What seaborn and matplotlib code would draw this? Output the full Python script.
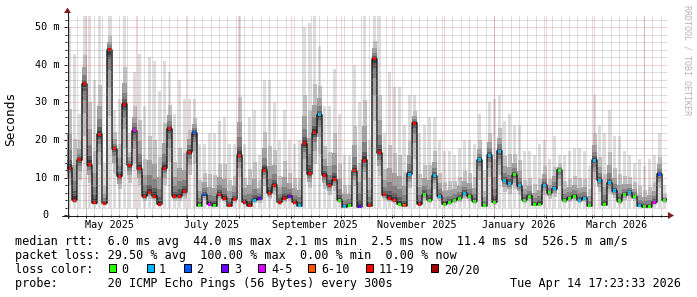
import numpy as np
import pandas as pd
import matplotlib
matplotlib.use("Agg")
import matplotlib.pyplot as plt
import matplotlib.dates as mdates
import matplotlib.transforms as mtransforms
from matplotlib.patches import Polygon, Rectangle
from matplotlib.lines import Line2D
import seaborn as sns

# ---------------- data ----------------
start_time = "2025-04-19 17:23:33"
end_time = "2026-04-14 17:23:33"
bin_days = 3

median_ms = [
    12.5, 4.0, 14.8, 35.0, 13.5, 3.4, 21.5, 3.2, 44.0, 17.7,
    10.4, 29.5, 13.3, 22.5, 12.4, 5.0, 6.0, 5.0, 3.0, 12.5,
    23.0, 5.0, 5.0, 6.2, 16.8, 22.0, 2.5, 5.5, 3.0, 2.6,
    5.5, 4.5, 2.5, 4.2, 16.0, 3.5, 2.5, 4.0, 4.4, 12.0,
    5.8, 8.0, 3.5, 4.5, 5.0, 3.5, 2.5, 19.0, 11.0, 22.0,
    26.7, 10.6, 8.0, 9.5, 4.0, 2.3, 2.5, 11.8, 2.3, 14.6,
    2.5, 41.6, 16.6, 5.5, 4.5, 4.0, 3.0, 2.5, 10.9, 24.5,
    3.0, 5.5, 4.0, 10.5, 5.0, 3.0, 3.5, 4.0, 4.5, 5.8,
    5.0, 3.7, 14.8, 2.5, 16.0, 3.5, 17.0, 9.3, 8.4, 10.8,
    7.8, 4.0, 5.0, 2.8, 3.0, 8.0, 6.0, 7.0, 12.0, 4.0,
    4.5, 5.0, 4.0, 4.5, 2.5, 14.6, 9.3, 2.8, 8.6, 6.5,
    3.8, 5.5, 6.0, 4.9, 2.5, 2.3, 2.3, 3.5, 10.9, 4.0,
]
max_ms = [
    50, 43, 27, 53, 53, 36, 53, 14, 53, 28,
    31, 53, 22, 38, 43, 29, 42, 41, 33, 41,
    38, 27, 36, 31, 31, 31, 19, 19, 22, 22,
    25, 26, 19, 19, 53, 19, 26, 28, 16, 36,
    36, 30, 20, 28, 20, 19, 20, 50, 51, 53,
    45, 29, 29, 39, 27, 16, 16, 40, 30, 53,
    20, 53, 53, 22, 38, 34, 34, 24, 32, 32,
    22, 24, 26, 26, 20, 17, 17, 16, 18, 20,
    20, 19, 27, 12, 30, 31, 32, 25, 27, 24,
    24, 17, 17, 16, 19, 20, 15, 21, 16, 16,
    17, 18, 18, 17, 13, 32, 24, 22, 28, 21,
    21, 17, 16, 14, 15, 13, 15, 16, 22, 8,
]
min_ms = 2.0
# loss class index into loss_labels
loss_class = [
    6, 6, 6, 6, 6, 6, 6, 6, 6, 6,
    6, 6, 6, 4, 6, 6, 6, 6, 6, 6,
    6, 6, 6, 6, 6, 2, 0, 2, 4, 0,
    6, 6, 6, 6, 6, 6, 6, 1, 3, 6,
    6, 6, 6, 6, 3, 6, 1, 6, 6, 6,
    1, 6, 6, 6, 0, 1, 0, 6, 3, 6,
    6, 6, 6, 6, 6, 6, 0, 5, 1, 6,
    6, 0, 0, 1, 1, 0, 0, 0, 0, 1,
    0, 0, 1, 0, 1, 0, 1, 1, 1, 0,
    1, 0, 0, 0, 0, 1, 0, 1, 0, 0,
    0, 0, 1, 1, 0, 1, 1, 0, 1, 1,
    0, 0, 1, 0, 1, 0, 0, 4, 2, 0,
]
loss_labels = ["0", "1", "2", "3", "4-5", "6-10", "11-19", "20/20"]
loss_colors = ["#26ff00", "#00b8ff", "#0059ff", "#6a00ff",
               "#dd00ff", "#ff5500", "#ff0000", "#a00000"]

ytick_values = [10, 20, 30, 40, 50]
ytick_labels = ["10 m", "20 m", "30 m", "40 m", "50 m"]
xlabel_months = ["2025-05-01", "2025-07-01", "2025-09-01",
                 "2025-11-01", "2026-01-01", "2026-03-01"]
xlabel_texts = ["May 2025", "July 2025", "September 2025",
                "November 2025", "January 2026", "March 2026"]

legend_rtt = "median rtt:  6.0 ms avg  44.0 ms max  2.1 ms min  2.5 ms now  11.4 ms sd  526.5 m am/s"
legend_loss = "packet loss: 29.50 % avg  100.00 % max  0.00 % min  0.00 % now"
legend_color = "loss color:"
legend_probe = "probe:       20 ICMP Echo Pings (56 Bytes) every 300s"
timestamp = "Tue Apr 14 17:23:33 2026"
watermark = "RRDTOOL / TOBI OETIKER"

# ---------------- figure ----------------
W, H, DPI = 697, 297, 100
sns.set_theme(style="white")
plt.rcParams["font.family"] = ["DejaVu Sans Mono"]
fig = plt.figure(figsize=(W / DPI, H / DPI), dpi=DPI)
fig.patch.set_facecolor("white")
ID = mtransforms.IdentityTransform()

PL, PT, PW, PH = 67, 15.3, 600, 200
ax = fig.add_axes([PL / W, 1 - (PT + PH) / H, PW / W, PH / H])
ax.set_facecolor("white")
for s in ax.spines.values():
    s.set_visible(False)

t0 = mdates.date2num(pd.Timestamp(start_time))
t1 = mdates.date2num(pd.Timestamp(end_time))
YMAX = 53.16

bin_start = mdates.date2num(pd.date_range(start_time, periods=len(median_ms),
                                          freq=f"{bin_days}D"))
med = np.array(median_ms, dtype=float)
mx = np.array(max_ms, dtype=float)

# smoke bands (outer = light/narrow, inner = dark/full width)
shades = [221, 192, 162, 130, 95, 60]
fracs = [1.0, 0.42, 0.24, 0.13, 0.06, 0.03]
widths = [0.6, 0.8, 1.0, 1.0, 1.0, 1.0]
for g, f, wf in zip(shades, fracs, widths):
    top = med + (mx - med) * f
    bot = med - (med - min_ms) * f
    ax.bar(bin_start + bin_days * (1 - wf) / 2, top - bot, bottom=bot,
           width=bin_days * wf, align="edge",
           color=str(g / 255), linewidth=0, zorder=1)

# median line
line_df = pd.DataFrame({"t": np.append(bin_start, t1),
                        "ms": np.append(med, med[-1])})
sns.lineplot(data=line_df, x="t", y="ms", drawstyle="steps-post",
             color="#202020", lw=1.1, ax=ax, zorder=2, estimator=None)

# loss-coloured median marks
ax.bar(bin_start + bin_days * 0.15, 0.8, bottom=med - 0.4,
       width=bin_days * 0.7, align="edge",
       color=[loss_colors[c] for c in loss_class], linewidth=0, zorder=3)

ax.set_xlim(t0, t1)
ax.set_ylim(0, YMAX)
ax.set_xlabel("")
ax.set_ylabel("")

# grid
grid_c = (0.56, 0.56, 0.56, 0.6)
mgrid_c = (0.87, 0.31, 0.31, 0.5)
dash = (0, (1, 1))
for v in np.arange(2, YMAX, 2):
    if int(v) % 10:
        ax.axhline(v, color=grid_c, lw=0.72, ls=dash, zorder=4)
for v in ytick_values:
    ax.axhline(v, color=mgrid_c, lw=0.72, ls=dash, zorder=4)
anchor = pd.Timestamp("2026-04-01")
minor_days = [anchor + pd.Timedelta(days=5 * k) for k in range(-80, 5)]
minor_x = [mdates.date2num(d) for d in minor_days
           if pd.Timestamp(start_time) < d < pd.Timestamp(end_time)]
for xv in minor_x:
    ax.axvline(xv, color=grid_c, lw=0.72, ls=dash, zorder=4)
month_x = mdates.date2num(pd.date_range("2025-05-01", "2026-04-01", freq="MS"))
for xv in month_x:
    ax.axvline(xv, color=mgrid_c, lw=0.72, ls=dash, zorder=4)

# ticks
axis_c = (0.12, 0.12, 0.12)
ax.set_yticks([0] + ytick_values)
ax.set_yticks(np.arange(0, YMAX, 2), minor=True)
ax.set_xticks(month_x)
ax.set_xticks(minor_x, minor=True)
ax.tick_params(axis="both", which="both", labelleft=False, labelbottom=False,
               left=True, bottom=True, direction="out", color=axis_c, width=0.72)
ax.tick_params(axis="y", which="major", length=2.5)
ax.tick_params(axis="y", which="minor", length=1.6)
ax.tick_params(axis="x", which="major", length=2.2)
ax.tick_params(axis="x", which="minor", length=1.4)

# axis lines and arrows
fig.add_artist(Line2D([62, 668], [H - 215.5, H - 215.5], transform=ID,
                      color=axis_c, lw=0.72))
fig.add_artist(Line2D([67.5, 67.5], [H - 218, H - 12], transform=ID,
                      color=axis_c, lw=0.72))
arrow_c = (0.5, 0.12, 0.12)
fig.add_artist(Polygon([[64, H - 13], [71, H - 13], [67.5, H - 7.5]],
                       closed=True, transform=ID, color=arrow_c, lw=0))
fig.add_artist(Polygon([[668, H - 212], [668, H - 219], [674, H - 215.5]],
                       closed=True, transform=ID, color=arrow_c, lw=0))

# y labels
ylab_tr = mtransforms.blended_transform_factory(ID, ax.transData)
for v, lab in zip(ytick_values, ytick_labels):
    ax.text(35.3, v, lab, transform=ylab_tr, ha="left", va="center",
            fontsize=7.3, color="black")
ax.text(42.2, 0, "0", transform=ylab_tr, ha="left", va="center",
        fontsize=7.3, color="black")

# x labels
xlab_tr = mtransforms.blended_transform_factory(ax.transData, ID)
for m, lab in zip(xlabel_months, xlabel_texts):
    xc = mdates.date2num(pd.Timestamp(m)) + 14.5
    ax.text(xc, H - 227.7, lab, transform=xlab_tr, ha="center", va="baseline",
            fontsize=7.3, color="black")

fig.text(10.5, H - 119, "Seconds", transform=ID, rotation=90, ha="center",
         va="center", fontsize=9.3, color="black")
fig.text(686.5, H - 5, watermark, transform=ID, rotation=-90, ha="center",
         va="top", fontsize=6.0, color="#b4b4b4")

# legend
LF = 8.5
rows = [245, 259.2, 273.3, 287.4]
fig.text(15.3, H - rows[0], legend_rtt, transform=ID, fontsize=LF,
         va="baseline", ha="left", color="black")
fig.text(15.3, H - rows[1], legend_loss, transform=ID, fontsize=LF,
         va="baseline", ha="left", color="black")
fig.text(15.3, H - rows[2], legend_color, transform=ID, fontsize=LF,
         va="baseline", ha="left", color="black")
box_x = [108, 146, 183, 220, 257, 307, 365, 430]
lab_x = [122, 159, 197, 235, 272, 322, 379, 445]
for bx, lx, lab, col in zip(box_x, lab_x, loss_labels, loss_colors):
    fig.add_artist(Rectangle((bx + 0.5, H - 271.5), 7.5, 7.5, transform=ID,
                             facecolor=col, edgecolor="black", lw=0.72))
    fig.text(lx - 0.7, H - rows[2], lab, transform=ID, fontsize=LF,
             va="baseline", ha="left", color="black")
fig.text(15.3, H - rows[3], legend_probe, transform=ID, fontsize=LF,
         va="baseline", ha="left", color="black")
fig.text(680.5, H - rows[3], timestamp, transform=ID, fontsize=LF,
         va="baseline", ha="right", color="black")

fig.savefig("out.png", dpi=DPI, facecolor="white")
